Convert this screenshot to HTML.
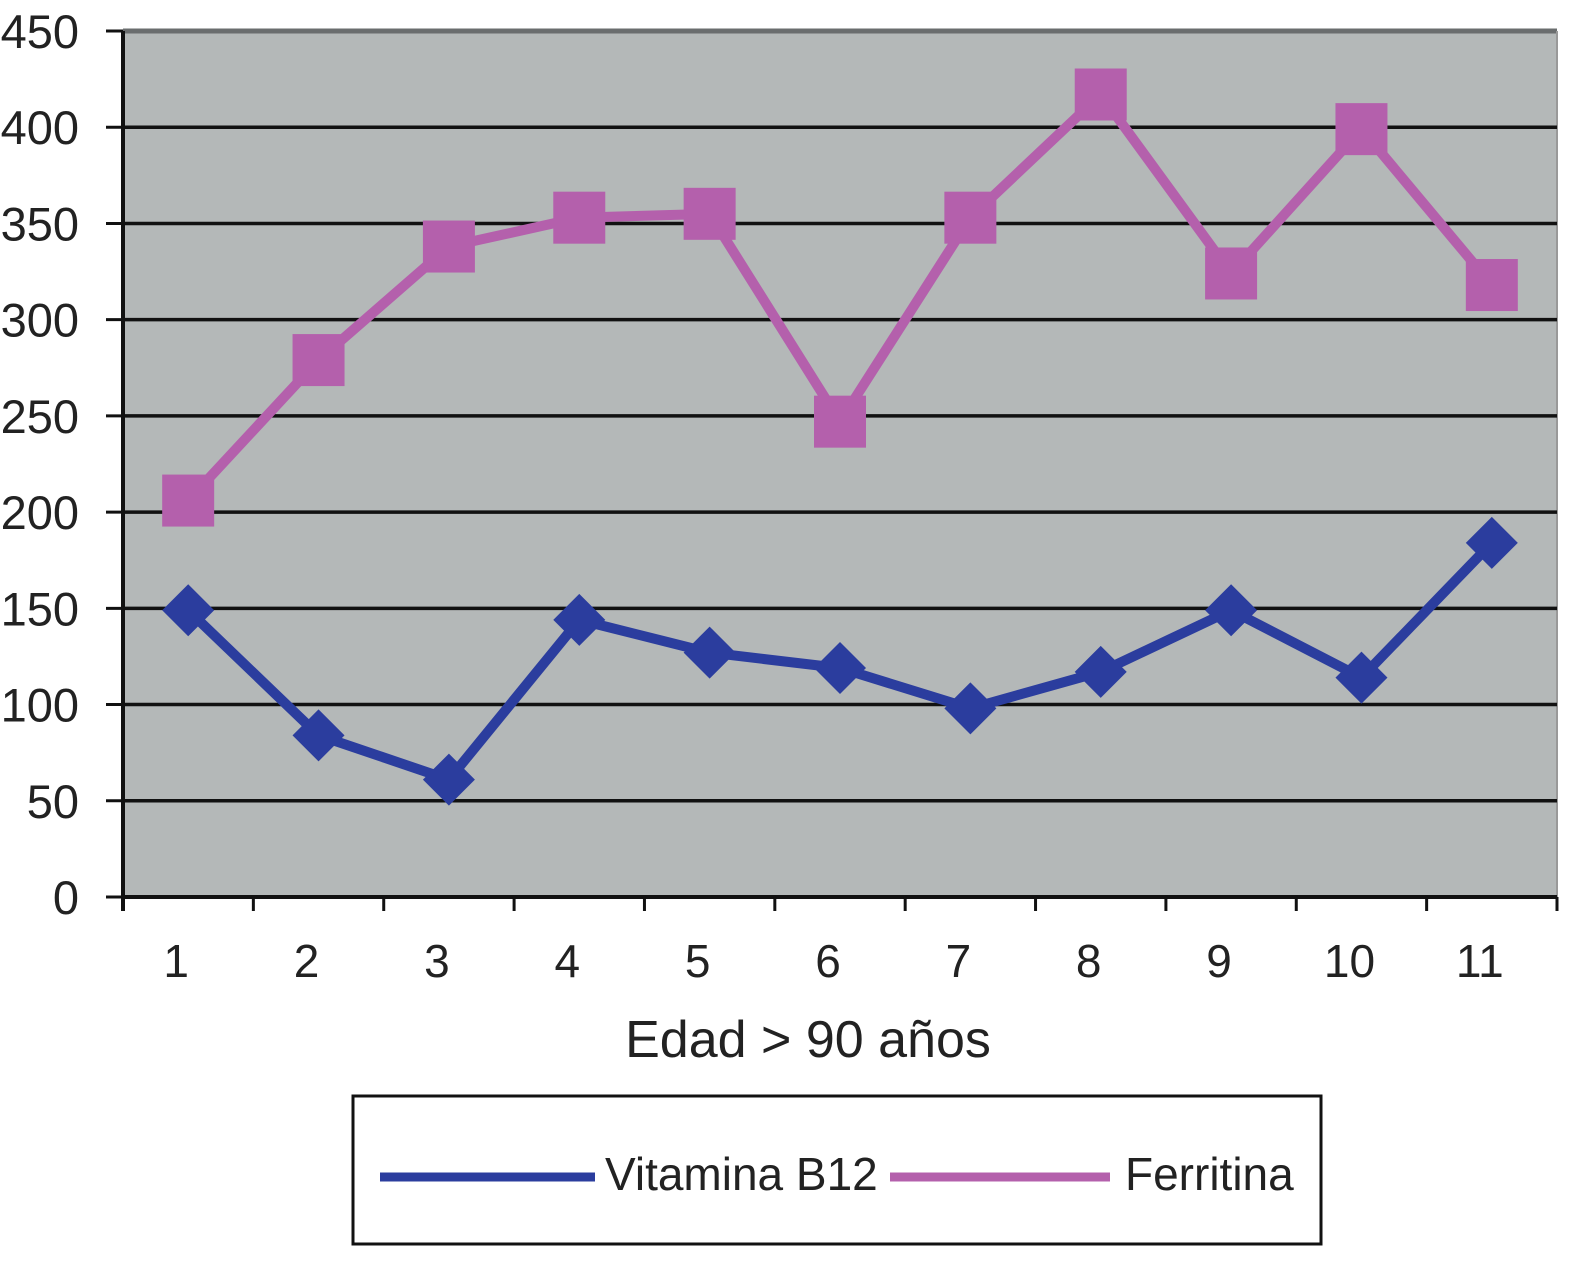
<!DOCTYPE html>
<html><head><meta charset="utf-8"><style>
body{margin:0;background:#fff;}
svg{display:block;font-family:"Liberation Sans",sans-serif;}
</style></head><body>
<svg id="chart" width="1592" height="1264">
<rect x="123" y="31" width="1434" height="866" fill="#b4b8b8"/>
<line x1="123" y1="31" x2="1557" y2="31" stroke="#6a6d6e" stroke-width="5"/>
<line x1="1557" y1="31" x2="1557" y2="897" stroke="#999" stroke-width="2"/>
<g id="grid"></g><g id="axes"></g><g id="series"></g>
<text x="808" y="1057" font-size="52" text-anchor="middle" fill="#222">Edad &gt; 90 años</text>
<g>
<rect x="353" y="1096" width="968" height="148" fill="#fff" stroke="#111" stroke-width="3"/>
<g>
<line x1="380" y1="1177" x2="595" y2="1177" stroke="#2b3d9e" stroke-width="9"/>
<text x="605" y="1190" font-size="46" fill="#222">Vitamina B12</text></g>
<g>
<line x1="890" y1="1177" x2="1110" y2="1177" stroke="#b460ac" stroke-width="9"/>
<text x="1125" y="1190" font-size="46" fill="#222">Ferritina</text></g>
</g>
</svg>
<script>
const categories=["1","2","3","4","5","6","7","8","9","10","11"];
const b12=[149,84,61,144,127,119,98,117,149,114,184];
const ferritina=[206,279,338,353,355,247,353,417,324,399,318];
const yTicks=[0,50,100,150,200,250,300,350,400,450];
const NS="http://www.w3.org/2000/svg";
const L=123,R=1557,T=31,B=897,yMax=450;
const bw=(R-L)/categories.length;
const xs=i=>L+bw*(i+0.5);
const ys=v=>B-(v/yMax)*(B-T);
function mk(tag,attrs,parent){const e=document.createElementNS(NS,tag);for(const k in attrs)e.setAttribute(k,attrs[k]);parent.appendChild(e);return e;}
const grid=document.getElementById('grid'),axes=document.getElementById('axes'),ser=document.getElementById('series');
yTicks.forEach(t=>{const y=ys(t);
 if(t>0&&t<450){const g=mk('line',{x1:L,y1:y,x2:R,y2:y,stroke:'#111','stroke-width':3.5},grid);
 
 }
 const tk=mk('line',{x1:106,y1:y,x2:L,y2:y,stroke:'#111','stroke-width':3},axes);
 
 
 const tx=mk('text',{x:79,y:y+17,'font-size':47,'text-anchor':'end',fill:'#222'},axes);tx.textContent=t;
 
 
});
const ya=mk('line',{x1:L,y1:T,x2:L,y2:B+14,stroke:'#111','stroke-width':4},axes);


const xa=mk('line',{x1:L,y1:B,x2:R,y2:B,stroke:'#111','stroke-width':4},axes);


for(let i=0;i<=categories.length;i++){const x=L+bw*i;
 const t=mk('line',{x1:x,y1:B,x2:x,y2:B+14,stroke:'#111','stroke-width':3},axes);
 
 }
categories.forEach((c,i)=>{const t=mk('text',{x:xs(i)-12,y:977,'font-size':46,'text-anchor':'middle',fill:'#222'},axes);t.textContent=c;
 
 });
function series(vals,color,name,shape){
 const g=mk('g',{},ser);
 
 
 mk('polyline',{points:vals.map((v,i)=>xs(i)+','+ys(v)).join(' '),fill:'none',stroke:color,'stroke-width':10,'stroke-linejoin':'round'},g);
 vals.forEach((v,i)=>{const x=xs(i),y=ys(v);let m;
  if(shape==='sq')m=mk('rect',{x:x-26,y:y-26,width:52,height:52,fill:color},g);
  else m=mk('polygon',{points:`${x},${y-26} ${x+26},${y} ${x},${y+26} ${x-26},${y}`,fill:color},g);
  
  });
}
series(ferritina,'#b460ac','ferritina','sq');
series(b12,'#2b3d9e','vitamina-b12','dia');
</script>
</body></html>
